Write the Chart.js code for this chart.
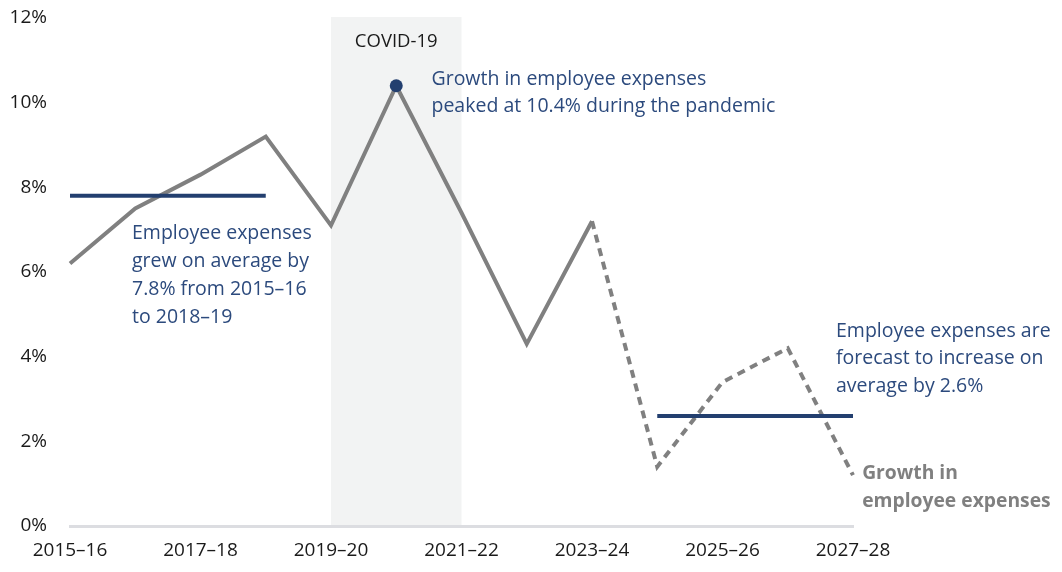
<!DOCTYPE html>
<html>
<head>
<meta charset="utf-8">
<script src="https://cdn.jsdelivr.net/npm/chart.js@4"></script>
<style>
  html, body { margin: 0; padding: 0; background: #fff; }
  #wrap { width: 1062px; height: 572px; }
</style>
</head>
<body>
<div id="wrap"><canvas id="growthChart" width="1062" height="572"></canvas></div>
<script>
const years = ['2015–16', '2016–17', '2017–18', '2018–19', '2019–20', '2020–21', '2021–22',
               '2022–23', '2023–24', '2024–25', '2025–26', '2026–27', '2027–28'];
const growth = [6.2, 7.5, 8.3, 9.2, 7.1, 10.4, 7.4, 4.3, 7.2, 1.4, 3.4, 4.2, 1.2];
const pastAverage = [7.8, 7.8, 7.8, 7.8, null, null, null, null, null, null, null, null, null];
const forecastAverage = [null, null, null, null, null, null, null, null, null, 2.6, 2.6, 2.6, 2.6];
const yTicks = [0, 2, 4, 6, 8, 10, 12];

const covidBand = ['2019–20', '2021–22'];
const peakIndex = 5;
const forecastFrom = 8; // dashed from 2023-24 on

const noteCovid = ['COVID-19'];
const notePeak = ['Growth in employee expenses', 'peaked at 10.4% during the pandemic'];
const notePast = ['Employee expenses', 'grew on average by', '7.8% from 2015–16', 'to 2018–19'];
const noteForecast = ['Employee expenses are', 'forecast to increase on', 'average by 2.6%'];
const noteSeries = ['Growth in', 'employee expenses'];

const FONT = '"Open Sans", sans-serif';
const navy = '#233f6f';
const navyText = '#2c4a7d';
const grey = '#808080';

// shaded band + text notes
const notesPlugin = {
    id: 'notes',
    beforeDatasetsDraw(chart) {
        const { ctx, chartArea, scales } = chart;
        const x0 = scales.x.getPixelForValue(years.indexOf(covidBand[0]));
        const x1 = scales.x.getPixelForValue(years.indexOf(covidBand[1]));
        ctx.save();
        ctx.fillStyle = '#f2f3f3';
        ctx.fillRect(x0, chartArea.top - 1, x1 - x0, chartArea.bottom - chartArea.top);
        ctx.restore();
    },
    afterDatasetsDraw(chart) {
        const { ctx, scales } = chart;
        const x = scales.x, y = scales.y;
        function write(lines, xi, yv, opts) {
            ctx.save();
            ctx.font = (opts.weight || 'normal') + ' ' + (opts.size || 19.5) + 'px ' + FONT;
            ctx.fillStyle = opts.color;
            ctx.textAlign = opts.align || 'left';
            ctx.textBaseline = 'middle';
            const px = x.getPixelForValue(xi);
            const py = y.getPixelForValue(yv);
            lines.forEach((l, i) => ctx.fillText(l, px, py + i * (opts.lh || 28)));
            ctx.restore();
        }
        write(noteCovid, 5, 11.43, { color: '#1a1a1a', align: 'center', size: 18.5 });
        write(notePeak, 5.54, 10.56, { color: navyText, lh: 27 });
        write(notePast, 0.95, 6.92, { color: navyText });
        write(noteForecast, 11.74, 4.6, { color: navyText, lh: 27.5 });
        write(noteSeries, 12.14, 1.23, { color: grey, weight: 'bold', lh: 28, size: 19.3 });
    }
};

new Chart(document.getElementById('growthChart').getContext('2d'), {
    type: 'line',
    data: {
        labels: years,
        datasets: [
            {
                label: 'Average 2015–16 to 2018–19',
                data: pastAverage,
                borderColor: navy,
                borderWidth: 4,
                pointRadius: 0,
                spanGaps: false
            },
            {
                label: 'Forecast average',
                data: forecastAverage,
                borderColor: navy,
                borderWidth: 4,
                pointRadius: 0,
                spanGaps: false
            },
            {
                label: 'Growth in employee expenses',
                data: growth,
                borderColor: grey,
                borderWidth: 4,
                tension: 0,
                pointRadius: ctx => ctx.dataIndex === peakIndex ? 6.5 : 0,
                pointBackgroundColor: navy,
                pointBorderWidth: 0,
                segment: {
                    borderDash: ctx => ctx.p0DataIndex >= forecastFrom ? [8, 6] : undefined
                }
            }
        ]
    },
    options: {
        responsive: false,
        animation: false,
        layout: { padding: { top: 0, right: 209, bottom: 0, left: 0 } },
        plugins: {
            legend: { display: false },
            tooltip: { enabled: false }
        },
        scales: {
            x: {
                offset: false,
                grid: { display: false, drawTicks: false },
                border: { display: true, color: '#dcdde1', width: 3 },
                afterFit: axis => { axis.height = 46; },
                ticks: {
                    autoSkip: false,
                    maxRotation: 0,
                    padding: 13,
                    color: '#1a1a1a',
                    font: { family: FONT, size: 19 },
                    callback: (v, i) => i % 2 === 0 ? years[i] : ''
                }
            },
            y: {
                min: 0,
                max: 12,
                afterBuildTicks: axis => { axis.ticks = yTicks.map(v => ({ value: v })); },
                afterFit: axis => {
                    axis.width = 70;
                    axis.paddingTop = 18;
                    axis.paddingBottom = 12;
                },
                grid: { display: false, drawTicks: false },
                border: { display: false },
                ticks: {
                    padding: 23,
                    color: '#1a1a1a',
                    font: { family: FONT, size: 19 },
                    callback: v => v + '%'
                }
            }
        }
    },
    plugins: [notesPlugin]
});
</script>
</body>
</html>
